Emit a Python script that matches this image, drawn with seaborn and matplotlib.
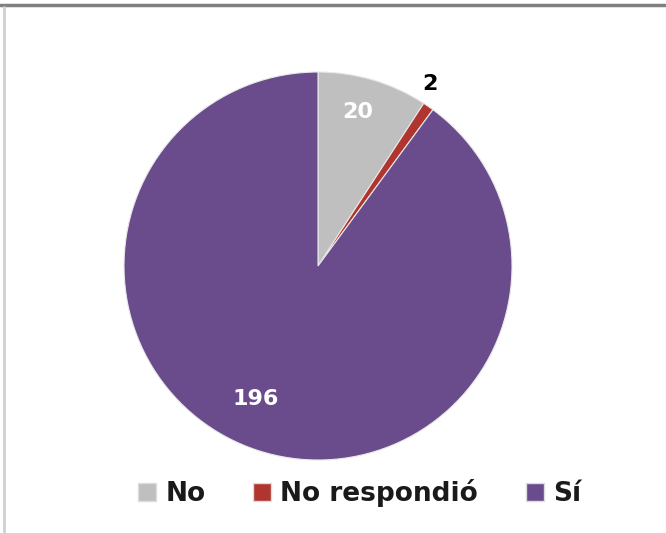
import matplotlib
matplotlib.use("Agg")
import matplotlib.pyplot as plt
from matplotlib.lines import Line2D
from matplotlib.patches import Patch
import seaborn as sns
import numpy as np

# Data
categories = ["No", "No respondió", "Sí"]
values = [20, 2, 196]
colors = ["#BFBFBF", "#B0352F", "#6A4C8C"]
label_colors = ["white", "black", "white"]
label_radius = [0.82, 1.1, 0.76]
label_shift = [2, 3, -7]  # degrees, nudges like Excel's best-fit labels

sns.set_style("white")
plt.rcParams["font.family"] = ["DejaVu Sans"]

fig = plt.figure(figsize=(6.66, 5.33), dpi=100)

# frame lines like the screenshot
fig.add_artist(Line2D([0, 1], [1 - 5 / 533, 1 - 5 / 533], color="#808080", lw=2.5))
fig.add_artist(Line2D([4 / 666, 4 / 666], [0, 1 - 7 / 533], color="#D0D0D0", lw=2))

cx, cy, R = 318, 266, 194
ax = fig.add_axes([(cx - R) / 666, (533 - cy - R) / 533, 2 * R / 666, 2 * R / 533])

wedges, _ = ax.pie(values, colors=colors, startangle=90, counterclock=False,
                   wedgeprops=dict(edgecolor="#E8E8E8", linewidth=0.8))
ax.set_aspect("equal")
ax.set_xlim(-1, 1)
ax.set_ylim(-1, 1)
ax.axis("off")

for w, v, c, r, s in zip(wedges, values, label_colors, label_radius, label_shift):
    ang = np.deg2rad((w.theta1 + w.theta2) / 2 + s)
    ax.text(r * np.cos(ang), r * np.sin(ang), str(v), color=c, ha="center", va="center",
            fontsize=16, fontweight="bold")

handles = [Patch(facecolor=c, edgecolor="#DDDDDD") for c in colors]
fig.legend(handles, categories, loc="center", bbox_to_anchor=(0.54, 1 - 493 / 533), ncol=3,
           frameon=False, prop=dict(size=19, weight="bold"), handlelength=0.68, handleheight=0.68,
           handletextpad=0.35, columnspacing=1.8, labelcolor="#1A1A1A")

fig.savefig("out.png", dpi=100, facecolor="white")
